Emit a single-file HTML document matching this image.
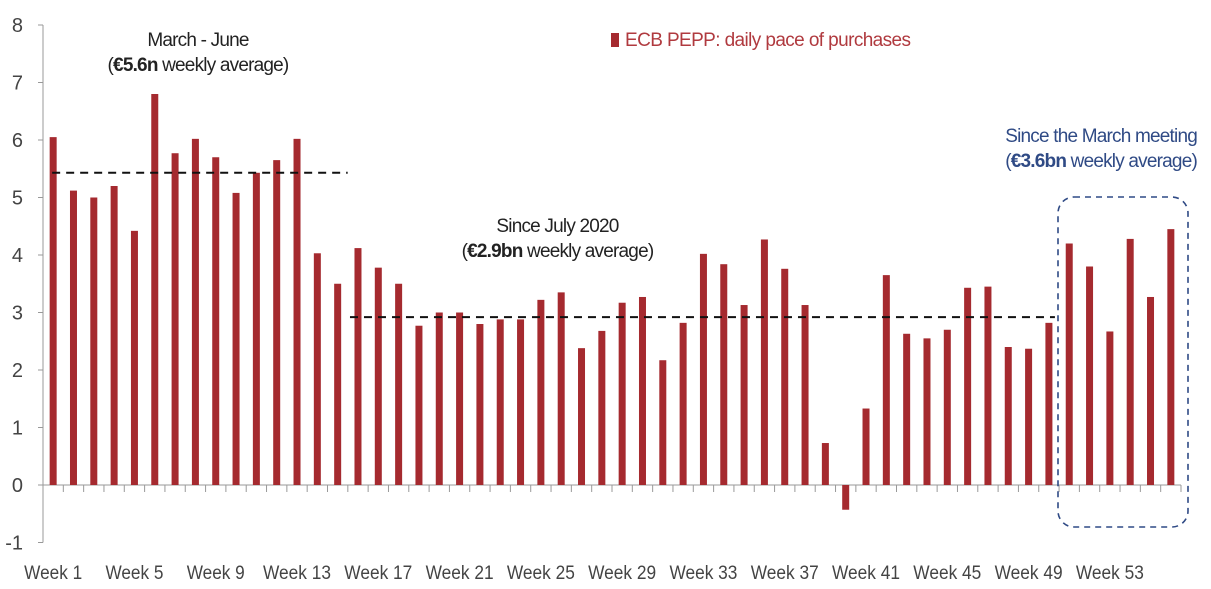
<!DOCTYPE html>
<html><head><meta charset="utf-8"><style>
body{margin:0;background:#fff;}
svg{display:block;font-family:"Liberation Sans",sans-serif;}
</style></head><body>
<svg id="chart" width="1211" height="589" viewBox="0 0 1211 589"></svg>
<script>
const categories = Array.from({length:56},(_,i)=>'Week '+(i+1));
const values = [6.05,5.12,5.0,5.2,4.42,6.8,5.77,6.02,5.7,5.08,5.43,5.65,6.02,4.03,3.5,4.12,3.78,3.5,2.77,3.0,3.0,2.8,2.88,2.88,3.22,3.35,2.38,2.68,3.17,3.27,2.17,2.82,4.02,3.84,3.13,4.27,3.76,3.13,0.73,-0.43,1.33,3.65,2.63,2.55,2.7,3.43,3.45,2.4,2.37,2.82,4.2,3.8,2.67,4.28,3.27,4.45];
const yTicks = [-1,0,1,2,3,4,5,6,7,8];
const avgLines = [{from:1,to:15,value:5.43},{from:16,to:50,value:2.92}];

const NS='http://www.w3.org/2000/svg';
const svg=document.getElementById('chart');
const x0=43, catW=(1181-43)/56;
const y=v=>485-v*57.5;
const xc=i=>x0+catW*(i+0.5);
function mk(t,a,txt){const e=document.createElementNS(NS,t);for(const k in a)e.setAttribute(k,a[k]);if(txt!==undefined)e.textContent=txt;svg.appendChild(e);return e;}

let ax=mk('line',{x1:x0,y1:y(8),x2:x0,y2:y(-1),stroke:'#999','stroke-width':1});


yTicks.forEach(t=>{
  const tk=mk('line',{x1:x0-5,y1:y(t),x2:x0,y2:y(t),stroke:'#999'});
  
  
  const l=mk('text',{x:x0-20,y:y(t)+7,'text-anchor':'end','font-size':20,fill:'#444'},String(t));
  
  
});
let xa=mk('line',{x1:x0,y1:y(0),x2:x0+catW*56,y2:y(0),stroke:'#999'});


for(let i=0;i<=56;i++){
  const tk=mk('line',{x1:x0+catW*i,y1:y(0),x2:x0+catW*i,y2:y(0)+7,stroke:'#999'});
  
  
}
values.forEach((v,i)=>{
  const b=mk('rect',{x:xc(i)-3.5,y:Math.min(y(v),y(0)),width:7,height:Math.abs(y(v)-y(0)),fill:'#a52a2f'});
  
  
});
categories.forEach((c,i)=>{
  if(i%4===0){
    const l=mk('text',{x:xc(i),y:579,'text-anchor':'middle','font-size':19,fill:'#444','textLength':c.length>6?68:58,lengthAdjust:'spacingAndGlyphs'},c);
    
    
  }
});
avgLines.forEach((a,k)=>{
  const l=mk('line',{x1:xc(a.from-1)-(k?8:1),y1:y(a.value),x2:xc(a.to-1)+(k?6:10),y2:y(a.value),stroke:'#111','stroke-width':2,'stroke-dasharray':'8,6'});
  
  
});
let bx=mk('rect',{x:1058,y:197,width:130,height:330,rx:16,fill:'none',stroke:'#2f4a85','stroke-width':1.6,'stroke-dasharray':'6,5'});


</script>
<div style="position:absolute;left:0;top:0;width:1211px;height:589px;pointer-events:none;font-family:'Liberation Sans',sans-serif;font-size:19px;">
  <div style="position:absolute;left:98px;top:28px;width:200px;text-align:center;color:#222;line-height:25px;letter-spacing:-0.8px;">March - June<br>(<b>€5.6n</b> weekly average)</div>
  <div style="position:absolute;left:440px;top:214px;width:235px;text-align:center;color:#222;line-height:25px;letter-spacing:-0.8px;">Since July 2020<br>(<b>€2.9bn</b> weekly average)</div>
  <div style="position:absolute;left:975px;top:124px;width:222px;text-align:right;color:#2f4a85;line-height:25px;letter-spacing:-0.8px;">Since the March meeting<br>(<b>€3.6bn</b> weekly average)</div>
  <div style="position:absolute;left:611px;top:30px;color:#b03a3f;letter-spacing:-0.6px;"><span style="display:inline-block;width:8px;height:14px;background:#a52a2f;margin-right:6px;vertical-align:-1px;"></span>ECB PEPP: daily pace of purchases</div>
</div>
</body></html>
